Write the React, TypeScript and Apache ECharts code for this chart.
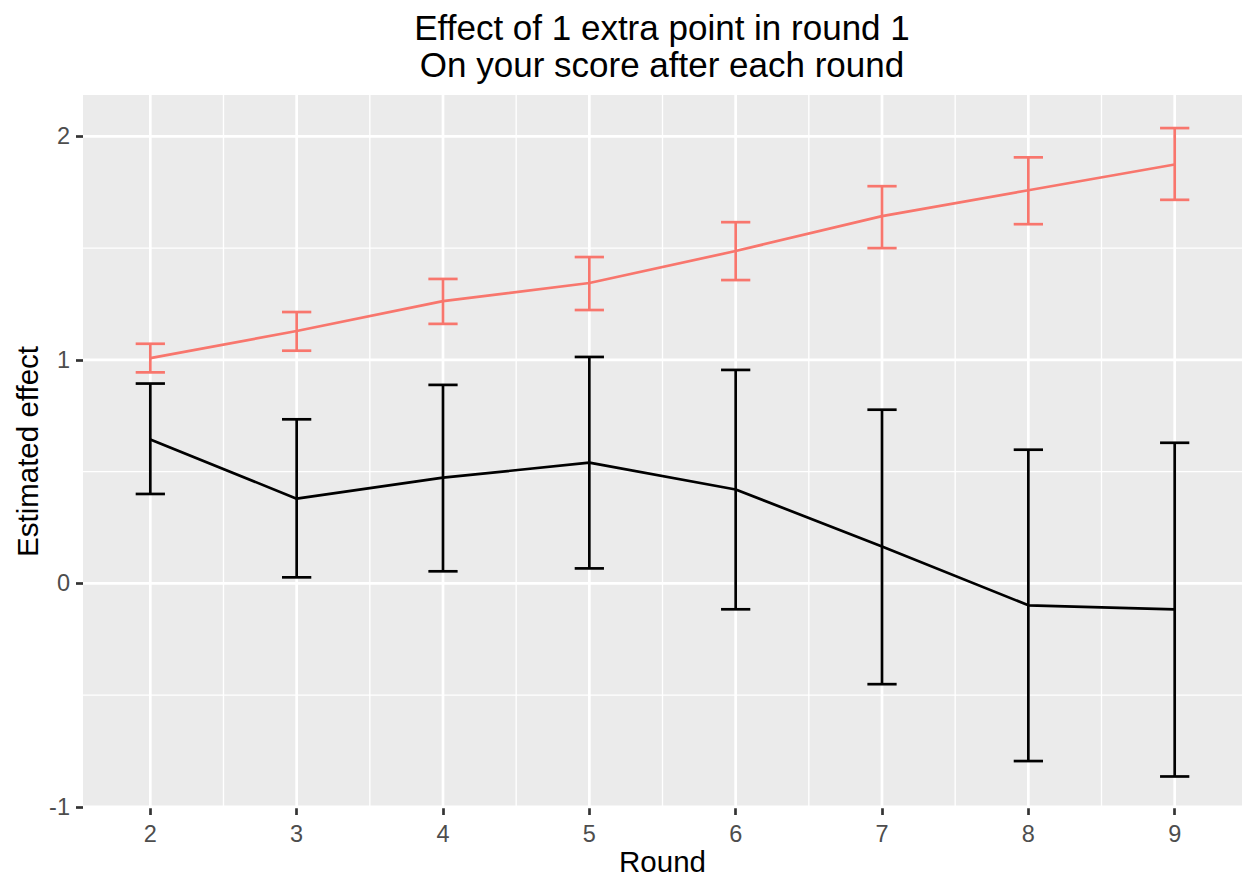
import React, { useEffect, useRef } from "react";
import * as echarts from "echarts";

const rounds = [2, 3, 4, 5, 6, 7, 8, 9];
const redEst = [1.008, 1.129, 1.263, 1.344, 1.487, 1.643, 1.759, 1.874];
const redLow = [0.944, 1.041, 1.161, 1.223, 1.357, 1.5, 1.607, 1.716];
const redHigh = [1.072, 1.214, 1.362, 1.46, 1.616, 1.777, 1.906, 2.037];
const blackEst = [0.644, 0.379, 0.473, 0.54, 0.42, 0.165, -0.098, -0.116];
const blackLow = [0.4, 0.027, 0.054, 0.067, -0.116, -0.451, -0.795, -0.864];
const blackHigh = [0.894, 0.734, 0.888, 1.013, 0.955, 0.777, 0.598, 0.629];

const xTicks = [2, 3, 4, 5, 6, 7, 8, 9];
const xMinor = [2.5, 3.5, 4.5, 5.5, 6.5, 7.5, 8.5];
const yTicks = [-1, 0, 1, 2];
const yMinor = [-0.5, 0.5, 1.5];

const FONT = "'Liberation Sans', Arial, Helvetica, sans-serif";
const RED = "#F8766D";

function gridSeries(values: number[], horizontal: boolean, width: number) {
  return {
    type: "custom",
    silent: true,
    z: 1,
    data: values.map((v) => (horizontal ? [5, v] : [v, 0])),
    renderItem: (params: any, api: any) => {
      const cs = params.coordSys;
      if (horizontal) {
        const y = api.coord([5, api.value(1)])[1];
        return {
          type: "line",
          shape: { x1: cs.x, y1: y, x2: cs.x + cs.width, y2: y },
          style: { stroke: "#FFFFFF", lineWidth: width },
        };
      }
      const x = api.coord([api.value(0), 0])[0];
      return {
        type: "line",
        shape: { x1: x, y1: cs.y, x2: x, y2: cs.y + cs.height },
        style: { stroke: "#FFFFFF", lineWidth: width },
      };
    },
  };
}

function errorSeries(low: number[], high: number[], color: string) {
  return {
    type: "custom",
    silent: true,
    z: 3,
    data: rounds.map((r, i) => [r, low[i], high[i]]),
    renderItem: (params: any, api: any) => {
      const x = api.value(0);
      const pLo = api.coord([x, api.value(1)]);
      const pHi = api.coord([x, api.value(2)]);
      const hw = api.size([0.1, 0])[0];
      const st = { stroke: color, lineWidth: 2.7 };
      return {
        type: "group",
        children: [
          { type: "line", shape: { x1: pHi[0], y1: pHi[1], x2: pLo[0], y2: pLo[1] }, style: st },
          { type: "line", shape: { x1: pHi[0] - hw, y1: pHi[1], x2: pHi[0] + hw, y2: pHi[1] }, style: st },
          { type: "line", shape: { x1: pLo[0] - hw, y1: pLo[1], x2: pLo[0] + hw, y2: pLo[1] }, style: st },
        ],
      };
    },
  };
}

export default function App() {
  const ref = useRef<HTMLDivElement>(null);
  useEffect(() => {
    document.body.style.margin = "0";
    const chart = echarts.init(ref.current!, null, { renderer: "svg" });
    chart.setOption({
      animation: false,
      backgroundColor: "#FFFFFF",
      textStyle: { fontFamily: FONT },
      title: {
        text: "Effect of 1 extra point in round 1\nOn your score after each round",
        left: 662,
        top: 9,
        padding: 0,
        textAlign: "center",
        textStyle: {
          fontFamily: FONT,
          fontSize: 35,
          fontWeight: "normal",
          color: "#000000",
          lineHeight: 37,
        },
      },
      grid: {
        left: 83,
        top: 95,
        right: 14,
        bottom: 78,
        show: true,
        backgroundColor: "#EBEBEB",
        borderWidth: 0,
        containLabel: false,
        outerBoundsMode: "none",
      },
      xAxis: {
        type: "value",
        min: 1.54,
        max: 9.46,
        name: "Round",
        nameLocation: "middle",
        nameGap: 38,
        nameMoveOverlap: false,
        nameTextStyle: { fontFamily: FONT, fontSize: 29.5, color: "#000000" },
        axisLine: { show: false, onZero: false },
        splitLine: { show: false },
        axisTick: {
          show: true,
          length: 7,
          customValues: xTicks,
          lineStyle: { color: "#333333", width: 2.7 },
        },
        axisLabel: {
          customValues: xTicks,
          fontFamily: FONT,
          fontSize: 23.5,
          color: "#4D4D4D",
          margin: 14,
        },
      },
      yAxis: {
        type: "value",
        min: -1.005,
        max: 2.185,
        name: "Estimated effect",
        nameLocation: "middle",
        nameGap: 41,
        nameMoveOverlap: false,
        nameRotate: 90,
        nameTextStyle: { fontFamily: FONT, fontSize: 29.5, color: "#000000" },
        axisLine: { show: false, onZero: false },
        splitLine: { show: false },
        axisTick: {
          show: true,
          length: 7,
          customValues: yTicks,
          lineStyle: { color: "#333333", width: 2.7 },
        },
        axisLabel: {
          customValues: yTicks,
          fontFamily: FONT,
          fontSize: 23.5,
          color: "#4D4D4D",
          margin: 13,
        },
      },
      series: [
        gridSeries(yMinor, true, 1.35),
        gridSeries(xMinor, false, 1.35),
        gridSeries(yTicks, true, 2.7),
        gridSeries(xTicks, false, 2.7),
        errorSeries(blackLow, blackHigh, "#000000"),
        errorSeries(redLow, redHigh, RED),
        {
          type: "line",
          z: 4,
          silent: true,
          symbol: "none",
          data: rounds.map((r, i) => [r, blackEst[i]]),
          lineStyle: { color: "#000000", width: 2.7 },
        },
        {
          type: "line",
          z: 4,
          silent: true,
          symbol: "none",
          data: rounds.map((r, i) => [r, redEst[i]]),
          lineStyle: { color: RED, width: 2.7 },
        },
      ],
    });
    return () => chart.dispose();
  }, []);
  return <div ref={ref} style={{ width: 1256, height: 886 }} />;
}
